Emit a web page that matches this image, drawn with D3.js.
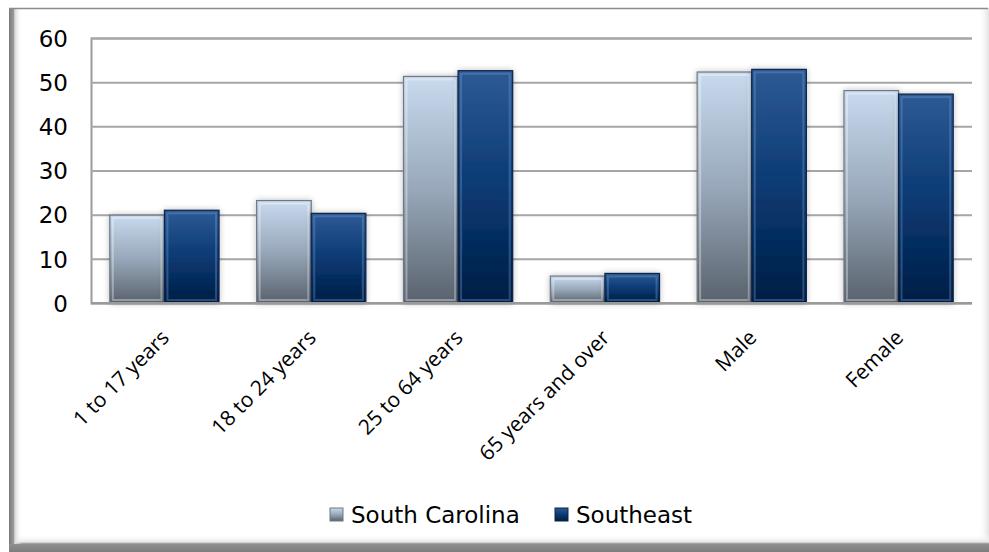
<!DOCTYPE html>
<html><head><meta charset="utf-8">
<script src="https://cdn.jsdelivr.net/npm/d3@7"></script>
<style>html,body{margin:0;padding:0;background:#fff;}svg{display:block;}</style>
</head><body>
<svg id="chart" width="989" height="552"></svg>
<script>
const categories = ["1 to 17 years","18 to 24 years","25 to 64 years","65 years and over","Male","Female"];
const seriesNames = ["South Carolina","Southeast"];
const southCarolina = [19.9, 23.2, 51.3, 6.1, 52.3, 48.1];
const southeast = [21.0, 20.3, 52.6, 6.7, 52.9, 47.3];
const yTicks = [0,10,20,30,40,50,60];

const svg = d3.select("#chart");
const W = 989, H = 552;
const m = {left:91, right:17, top:38, bottom:249};
const plotW = W - m.left - m.right, plotH = H - m.top - m.bottom;

const defs = svg.append("defs");
function lg(id, stops, x1=0,y1=0,x2=0,y2=1){
  const g = defs.append("linearGradient").attr("id",id).attr("x1",x1).attr("y1",y1).attr("x2",x2).attr("y2",y2);
  stops.forEach(s=>g.append("stop").attr("offset",s[0]).attr("stop-color",s[1]).attr("stop-opacity",s[2]===undefined?1:s[2]));
}
lg("gSC",[[0,"#c9daef"],[0.5,"#98a8ba"],[1,"#59626d"]]);
lg("gSE",[[0,"#2d5a95"],[0.5,"#0a3a73"],[1,"#001d45"]]);
lg("fLeft",[[0,"#7a7a7a"],[0.35,"#9a9a9a"],[0.45,"#d8d8d8"],[1,"#ffffff",0]],0,0,1,0);
lg("fBottom",[[0,"#ffffff",0],[0.45,"#e6e6e6"],[0.55,"#8f8f8f"],[1,"#7d7d7d"]]);
lg("fRight",[[0,"#ffffff",0],[1,"#e2e2e2"]],0,0,1,0);
const f = defs.append("filter").attr("id","shadow").attr("x","-20%").attr("y","-20%").attr("width","140%").attr("height","140%");
f.append("feGaussianBlur").attr("in","SourceAlpha").attr("stdDeviation",3).attr("result","b");
f.append("feOffset").attr("in","b").attr("dx",0).attr("dy",0).attr("result","o");
f.append("feComponentTransfer").attr("in","o").attr("result","o2").append("feFuncA").attr("type","linear").attr("slope",0.25);
const fm = f.append("feMerge"); fm.append("feMergeNode").attr("in","o2"); fm.append("feMergeNode").attr("in","SourceGraphic");

// frame
svg.append("rect").attr("x",0).attr("y",0).attr("width",W).attr("height",H).attr("fill","#fff");
svg.append("rect").attr("x",978).attr("y",8).attr("width",11).attr("height",544).attr("fill","url(#fRight)");
svg.append("rect").attr("x",9).attr("y",534).attr("width",980).attr("height",18).attr("fill","url(#fBottom)");
svg.append("rect").attr("x",9).attr("y",8).attr("width",13).attr("height",536).attr("fill","url(#fLeft)");
svg.append("line").attr("x1",9).attr("x2",988).attr("y1",8.5).attr("y2",8.5).attr("stroke","#8c8c8c").attr("stroke-width",1.5);

const x = d3.scaleBand().domain(categories).range([m.left, m.left+plotW]).paddingInner(0.256).paddingOuter(0.128);
const xs = d3.scaleBand().domain(seriesNames).range([0, x.bandwidth()]);
const y = d3.scaleLinear().domain([0,60]).range([m.top+plotH, m.top]);

// gridlines
const yAxis = d3.axisLeft(y).tickValues(yTicks).tickSize(-plotW).tickFormat(d=>d).tickPadding(23);
const ga = svg.append("g").attr("transform",`translate(${m.left},0)`).call(yAxis);
ga.select(".domain").attr("stroke","#9a9a9a").attr("stroke-width",2);
ga.selectAll(".tick line").attr("stroke","#a6a6a6").attr("stroke-width",2);
ga.selectAll(".tick text").attr("font-family","DejaVu Sans").attr("font-size",23).attr("fill","#000").attr("dy","0.36em");

// bars
const data = categories.map((c,i)=>({c, vals:[{s:seriesNames[0],v:southCarolina[i]},{s:seriesNames[1],v:southeast[i]}]}));
const grp = svg.append("g").selectAll("g").data(data).join("g").attr("transform",d=>`translate(${x(d.c)},0)`);
const bars = grp.selectAll("g").data(d=>d.vals).join("g").attr("filter","url(#shadow)");
bars.append("rect")
  .attr("x",d=>xs(d.s)).attr("y",d=>y(d.v)).attr("width",xs.bandwidth()).attr("height",d=>y(0)-y(d.v))
  .attr("fill",d=>d.s===seriesNames[0]?"url(#gSC)":"url(#gSE)")
  .attr("stroke",d=>d.s===seriesNames[0]?"#6f7884":"#0b2448").attr("stroke-width",1.2);
bars.append("rect")
  .attr("x",d=>xs(d.s)+3).attr("y",d=>y(d.v)+3).attr("width",xs.bandwidth()-6).attr("height",d=>Math.max(0,y(0)-y(d.v)-6))
  .attr("fill","none")
  .attr("stroke",d=>d.s===seriesNames[0]?"rgba(255,255,255,0.35)":"rgba(120,160,210,0.35)").attr("stroke-width",2);

// baseline
svg.append("line").attr("x1",m.left).attr("x2",m.left+plotW).attr("y1",y(0)).attr("y2",y(0)).attr("stroke","#9a9a9a").attr("stroke-width",2);

// x labels
svg.append("g").selectAll("text").data(categories).join("text")
  .attr("transform",d=>`translate(${x(d)+x.bandwidth()/2+6},339) rotate(-45)`)
  .attr("text-anchor","end").attr("font-family","Open Sans").attr("font-size",21).attr("fill","#000")
  .text(d=>d);

// legend
const legX = [330, 555];
const lgd = svg.append("g").selectAll("g").data(seriesNames).join("g").attr("transform",(d,i)=>`translate(${legX[i]},508)`);
lgd.append("rect").attr("width",13).attr("height",13).attr("fill",(d,i)=>i===0?"url(#gSC)":"url(#gSE)").attr("stroke",(d,i)=>i===0?"#6f7884":"#0b2448");
lgd.append("text").attr("x",21).attr("y",15).attr("font-family","DejaVu Sans").attr("font-size",23).attr("fill","#000").text(d=>d);
</script>
</body></html>
